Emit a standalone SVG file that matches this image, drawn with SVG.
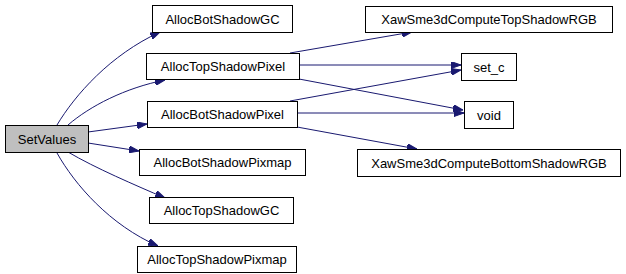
<svg xmlns="http://www.w3.org/2000/svg" width="626" height="274" viewBox="0 0 626 274">
<style>
.n rect{fill:#ffffff;stroke:#000000;stroke-width:1}
.n.root rect{fill:#bfbfbf}
.n text{font-family:"Liberation Sans",Arial,sans-serif;font-size:13px;fill:#000000;text-anchor:middle}
.e path{fill:none;stroke:#191970;stroke-width:1;marker-end:url(#ah)}
</style>
<defs>
<marker id="ah" viewBox="0 0 10 7" refX="10" refY="3.5" markerWidth="10" markerHeight="7" markerUnits="userSpaceOnUse" orient="auto">
<path d="M0,0 L10,3.5 L0,7 z" fill="#191970" stroke="#191970"/>
</marker>
</defs>
<g id="edges" class="e">
<path d="M57,125 C75,95 110,55 160,32"/>
<path d="M68,125 C90,106 125,88 165,80"/>
<path d="M88,132 L147,124"/>
<path d="M88,143 L139,151"/>
<path d="M68,152 C95,168 135,185 165,198"/>
<path d="M57,153 C75,185 110,225 158,246"/>
<path d="M290,53 L412,32"/>
<path d="M299,65 L461,65"/>
<path d="M299,79 L463,110"/>
<path d="M290,101 L461,70"/>
<path d="M297,113 L464,113"/>
<path d="M297,127 L417,149"/>
</g>
<g id="SetValues" class="n root"><rect x="5.5" y="125.5" width="83" height="27"/><text x="47" y="143.5">SetValues</text></g>
<g id="AllocBotShadowGC" class="n"><rect x="152.5" y="5.5" width="140" height="27"/><text x="222.5" y="23.5">AllocBotShadowGC</text></g>
<g id="AllocTopShadowPixel" class="n"><rect x="146.5" y="53.5" width="153" height="26"/><text x="223" y="71">AllocTopShadowPixel</text></g>
<g id="AllocBotShadowPixel" class="n"><rect x="147.5" y="101.5" width="150" height="26"/><text x="222.5" y="119">AllocBotShadowPixel</text></g>
<g id="AllocBotShadowPixmap" class="n"><rect x="139.5" y="149.5" width="166" height="26"/><text x="222.5" y="167">AllocBotShadowPixmap</text></g>
<g id="AllocTopShadowGC" class="n"><rect x="149.5" y="197.5" width="144" height="26"/><text x="221.5" y="215">AllocTopShadowGC</text></g>
<g id="AllocTopShadowPixmap" class="n"><rect x="137.5" y="246.5" width="159" height="26"/><text x="217" y="264">AllocTopShadowPixmap</text></g>
<g id="XawSme3dComputeTopShadowRGB" class="n"><rect x="365.5" y="6.5" width="247" height="26"/><text x="489" y="24">XawSme3dComputeTopShadowRGB</text></g>
<g id="set_c" class="n"><rect x="461.5" y="53.5" width="55" height="27"/><text x="489" y="71.5">set_c</text></g>
<g id="void" class="n"><rect x="464.5" y="101.5" width="49" height="27"/><text x="489" y="119.5">void</text></g>
<g id="XawSme3dComputeBottomShadowRGB" class="n"><rect x="357.5" y="149.5" width="263" height="27"/><text x="489" y="167.5">XawSme3dComputeBottomShadowRGB</text></g>
</svg>
